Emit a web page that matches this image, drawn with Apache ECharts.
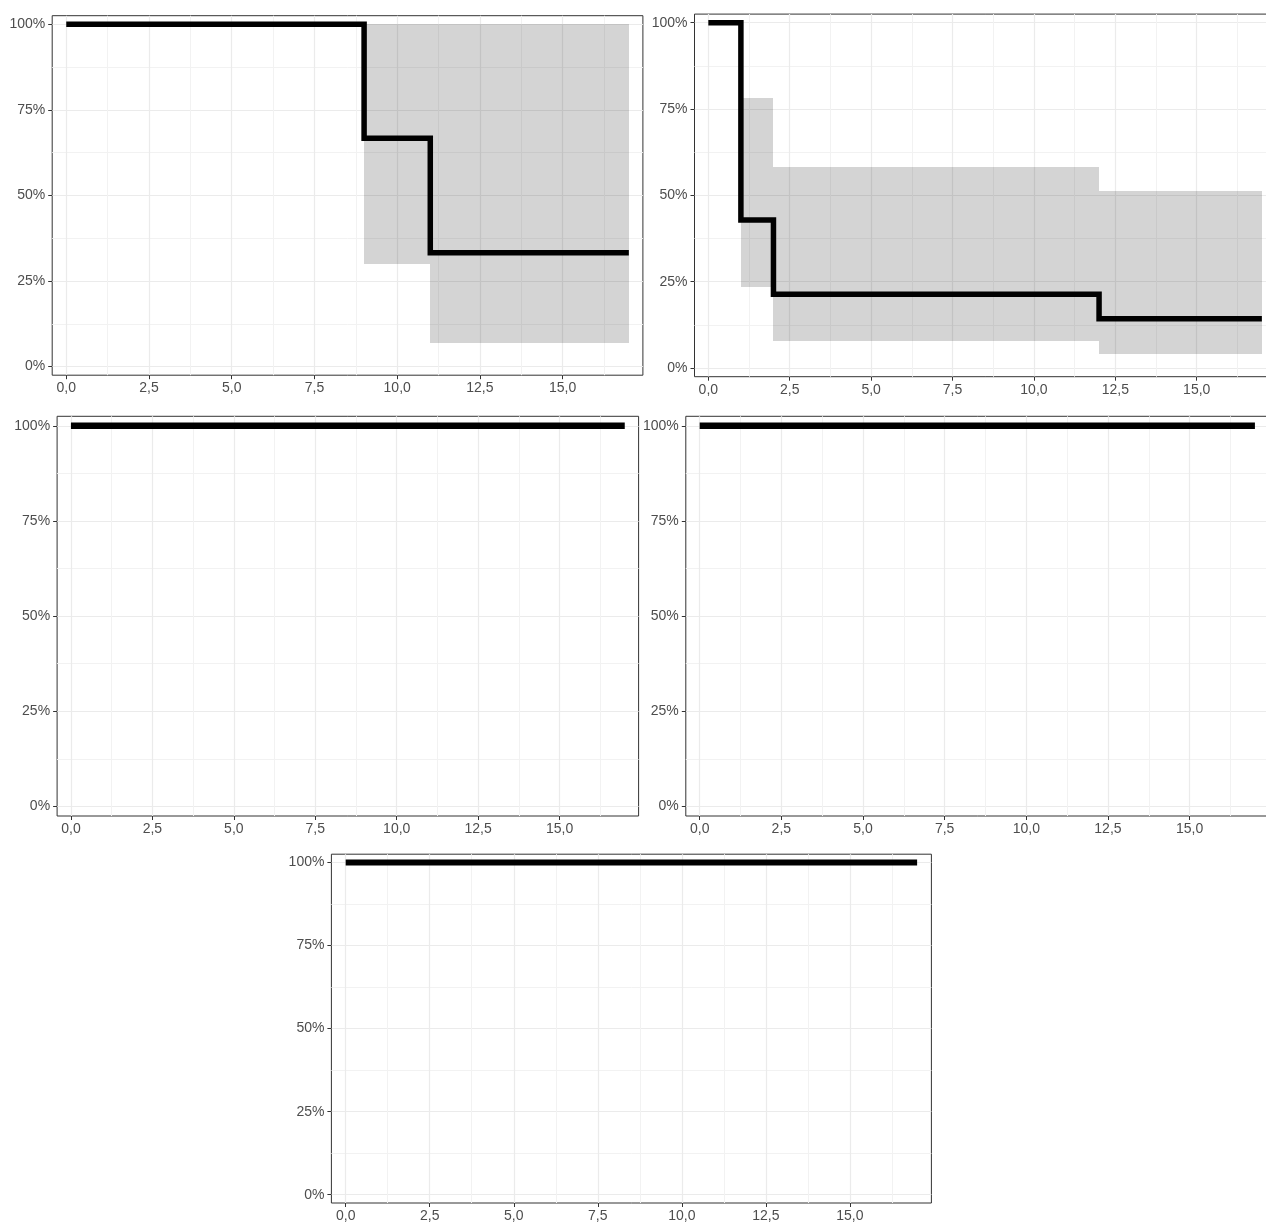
<!DOCTYPE html>
<html>
<head>
<meta charset="utf-8">
<script src="https://cdn.jsdelivr.net/npm/echarts@6/dist/echarts.min.js"></script>
<style>
html,body{margin:0;padding:0;background:#fff;overflow:hidden;}
#chart{width:1300px;height:1223px;}
</style>
</head>
<body>
<div id="chart"></div>
<script>
// ---- tick labels / gridlines ----
const xTicks = [0, 2.5, 5, 7.5, 10, 12.5, 15];
const xMinor = [1.25, 3.75, 6.25, 8.75, 11.25, 13.75, 16.25];
const yTicks = [0, 0.25, 0.5, 0.75, 1];
const yMinor = [0.125, 0.375, 0.625, 0.875];

// ---- panel 1 ----
const p1Time = [0, 9, 11, 17];
const p1Surv = [1, 0.667, 0.333, 0.333];
const p1CiBreaks = [9, 11, 17];      // interval k = [breaks[k], breaks[k+1]]
const p1Lower = [0.300, 0.068];
const p1Upper = [1, 1];

// ---- panel 2 ----
const p2Time = [0, 1, 2, 12, 17];
const p2Surv = [1, 0.429, 0.214, 0.143, 0.143];
const p2CiBreaks = [1, 2, 12, 17];
const p2Lower = [0.234, 0.079, 0.040];
const p2Upper = [0.783, 0.583, 0.514];

// ---- panels 3-5 ----
const p3Time = [0, 17];
const p3Surv = [1, 1];
const p4Time = [0, 17];
const p4Surv = [1, 1];
const p5Time = [0, 17];
const p5Surv = [1, 1];

const X_MIN = -0.425, X_MAX = 17.425;
const Y_MIN = -0.025, Y_MAX = 1.025;

const panels = [
  {grid: {left: 52.2, top: 15.7, width: 590.7, height: 359.5}, lw: 5.5,
   time: p1Time, surv: p1Surv, ciBreaks: p1CiBreaks, lower: p1Lower, upper: p1Upper},
  {grid: {left: 694.5, top: 14.1, width: 581.2, height: 362.6}, lw: 5.5,
   time: p2Time, surv: p2Surv, ciBreaks: p2CiBreaks, lower: p2Lower, upper: p2Upper},
  {grid: {left: 57.1, top: 416.3, width: 581.5, height: 399.7}, lw: 6.5,
   time: p3Time, surv: p3Surv},
  {grid: {left: 685.8, top: 416.3, width: 583, height: 399.7}, lw: 6.5,
   time: p4Time, surv: p4Surv},
  {grid: {left: 331.4, top: 854.2, width: 600, height: 349}, lw: 6,
   time: p5Time, surv: p5Surv}
];

const FONT = '"Liberation Sans", Arial, sans-serif';
const grids = [], xAxes = [], yAxes = [], series = [];

function renderBand(params, api) {
  const p0 = api.coord([api.value(0), api.value(3)]);
  const p1 = api.coord([api.value(1), api.value(2)]);
  const x0 = Math.round(p0[0]), x1 = Math.round(p1[0]);
  const y0 = Math.round(p0[1]), y1 = Math.round(p1[1]);
  return {
    type: 'rect',
    shape: {x: x0, y: y0, width: x1 - x0, height: y1 - y0},
    style: {fill: 'rgba(0,0,0,0.17)'}
  };
}

panels.forEach((p, i) => {
  grids.push(Object.assign({show: true, borderColor: '#333333', borderWidth: 1, backgroundColor: 'transparent'}, p.grid));
  xAxes.push({
    type: 'value', gridIndex: i, min: X_MIN, max: X_MAX, position: 'bottom',
    axisLine: {show: false, onZero: false},
    axisTick: {show: true, length: 4, customValues: xTicks, lineStyle: {color: '#333333', width: 1}},
    axisLabel: {show: true, customValues: xTicks, margin: 6, color: '#4d4d4d', fontSize: 14, fontFamily: FONT,
      formatter: v => v.toFixed(1).replace('.', ',')},
    splitLine: {show: true, lineStyle: {color: '#ebebeb', width: 1.2}}
  });
  xAxes.push({
    type: 'value', gridIndex: i, min: X_MIN, max: X_MAX, position: 'top',
    axisLine: {show: false, onZero: false},
    axisTick: {show: false, customValues: xMinor},
    axisLabel: {show: false, customValues: xMinor},
    splitLine: {show: true, lineStyle: {color: '#f2f2f2', width: 1}}
  });
  yAxes.push({
    type: 'value', gridIndex: i, min: Y_MIN, max: Y_MAX, position: 'left',
    axisLine: {show: false, onZero: false},
    axisTick: {show: true, length: 4, customValues: yTicks, lineStyle: {color: '#333333', width: 1}},
    axisLabel: {show: true, customValues: yTicks, margin: 7, color: '#4d4d4d', fontSize: 14, fontFamily: FONT,
      formatter: v => Math.round(v * 100) + '%'},
    splitLine: {show: true, lineStyle: {color: '#ebebeb', width: 1.2}}
  });
  yAxes.push({
    type: 'value', gridIndex: i, min: Y_MIN, max: Y_MAX, position: 'right',
    axisLine: {show: false, onZero: false},
    axisTick: {show: false, customValues: yMinor},
    axisLabel: {show: false, customValues: yMinor},
    splitLine: {show: true, lineStyle: {color: '#f2f2f2', width: 1}}
  });

  if (p.ciBreaks) {
    const bandData = p.lower.map((lo, k) => [p.ciBreaks[k], p.ciBreaks[k + 1], lo, p.upper[k]]);
    series.push({
      type: 'custom', xAxisIndex: 2 * i, yAxisIndex: 2 * i, silent: true, z: 1,
      renderItem: renderBand,
      encode: {x: [0, 1], y: [2, 3]},
      data: bandData
    });
  }
  series.push({
    type: 'line', xAxisIndex: 2 * i, yAxisIndex: 2 * i, step: 'end',
    symbol: 'none', silent: true, z: 3,
    lineStyle: {color: '#000000', width: p.lw, cap: 'butt', join: 'miter'},
    data: p.time.map((t, k) => [t, p.surv[k]])
  });
});

const chart = echarts.init(document.getElementById('chart'), null, {renderer: 'canvas'});
chart.setOption({
  animation: false,
  backgroundColor: '#ffffff',
  grid: grids,
  xAxis: xAxes,
  yAxis: yAxes,
  series: series
});
</script>
</body>
</html>
